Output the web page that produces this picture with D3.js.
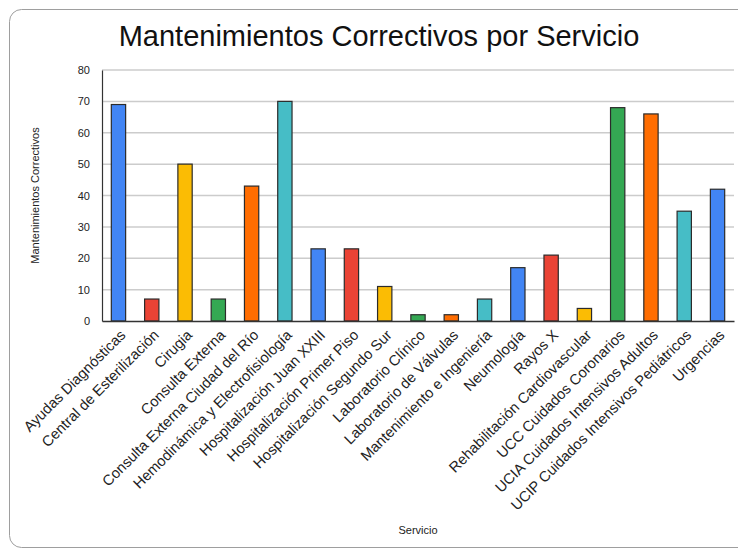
<!DOCTYPE html>
<html>
<head>
<meta charset="utf-8">
<script src="https://cdn.jsdelivr.net/npm/d3@7/dist/d3.min.js"></script>
<style>
  html, body { margin: 0; padding: 0; background: #fff; }
  svg { display: block; font-family: "Liberation Sans", Arial, sans-serif; }
</style>
</head>
<body>
<svg id="chart" width="738" height="554"></svg>
<script>
// Servicios y número de mantenimientos correctivos
const categories = [
  "Ayudas Diagnósticas", "Central de Esterilización", "Cirugia", "Consulta Externa",
  "Consulta Externa Ciudad del Río", "Hemodinámica y Electrofisiología",
  "Hospitalización Juan XXIII", "Hospitalización Primer Piso",
  "Hospitalización Segundo Sur", "Laboratorio Clínico", "Laboratorio de Válvulas",
  "Mantenimiento e Ingeniería", "Neumología", "Rayos X",
  "Rehabilitación Cardiovascular", "UCC Cuidados Coronarios",
  "UCIA Cuidados Intensivos Adultos", "UCIP Cuidados Intensivos Pediátricos", "Urgencias"
];
const values = [69, 7, 50, 7, 43, 70, 23, 23, 11, 2, 2, 7, 17, 21, 4, 68, 66, 35, 42];
const yTicks = [0, 10, 20, 30, 40, 50, 60, 70, 80];
const palette = ["#4285F4", "#EA4335", "#FBBC04", "#34A853", "#FF6D01", "#46BDC6"];

const svg = d3.select("#chart");
const W = 738, H = 554;
const m = { left: 102, right: 4, top: 70, bottom: 233 };

// Card frame
svg.append("rect")
  .attr("x", 9.5).attr("y", 9.5)
  .attr("width", W + 20).attr("height", H - 16)
  .attr("rx", 12).attr("ry", 12)
  .attr("fill", "#fff").attr("stroke", "#9e9e9e").attr("stroke-width", 1);

const x = d3.scaleBand()
  .domain(categories)
  .range([m.left, W - m.right])
  .paddingInner(0.57).paddingOuter(0.28);

const y = d3.scaleLinear().domain([0, 80]).range([H - m.bottom, m.top]);

// Gridlines
svg.append("g")
  .selectAll("line")
  .data(yTicks.filter(t => t > 0))
  .join("line")
  .attr("x1", m.left).attr("x2", W - m.right)
  .attr("y1", d => y(d)).attr("y2", d => y(d))
  .attr("stroke", "#cccccc").attr("stroke-width", 1.5);

// Y axis
const yAxis = d3.axisLeft(y).tickValues(yTicks).tickSize(0).tickPadding(12);
const gy = svg.append("g").attr("transform", `translate(${m.left},0)`).call(yAxis);
gy.select(".domain").attr("stroke", "#333").attr("stroke-width", 1.2);
gy.selectAll("text").attr("font-size", 11).attr("fill", "#222")
  .attr("font-family", "'Liberation Sans', Arial, sans-serif");

// Bars
svg.append("g")
  .selectAll("rect")
  .data(values)
  .join("rect")
  .attr("x", (d, i) => x(categories[i]))
  .attr("y", d => y(d))
  .attr("width", x.bandwidth())
  .attr("height", d => y(0) - y(d))
  .attr("fill", (d, i) => palette[i % palette.length])
  .attr("stroke", "#2b2b2b").attr("stroke-width", 1.2);

// X axis
const xAxis = d3.axisBottom(x).tickSize(0).tickPadding(0);
const gx = svg.append("g").attr("transform", `translate(0,${y(0)})`).call(xAxis);
gx.select(".domain").attr("stroke", "#333").attr("stroke-width", 1.5);
gx.selectAll("text")
  .attr("font-size", 14.7).attr("fill", "#222")
  .attr("font-family", "'Liberation Sans', Arial, sans-serif")
  .attr("text-anchor", "end")
  .attr("dy", 0)
  .attr("transform", "translate(8,15) rotate(-45)");

// Titles
svg.append("text")
  .attr("x", 379).attr("y", 46)
  .attr("text-anchor", "middle")
  .attr("font-size", 29).attr("fill", "#111")
  .text("Mantenimientos Correctivos por Servicio");

svg.append("text")
  .attr("transform", `translate(39,${(y(0) + y(80)) / 2}) rotate(-90)`)
  .attr("text-anchor", "middle")
  .attr("font-size", 11).attr("fill", "#222")
  .text("Mantenimientos Correctivos");

svg.append("text")
  .attr("x", 418).attr("y", 534)
  .attr("text-anchor", "middle")
  .attr("font-size", 11).attr("fill", "#222")
  .text("Servicio");
</script>
</body>
</html>
